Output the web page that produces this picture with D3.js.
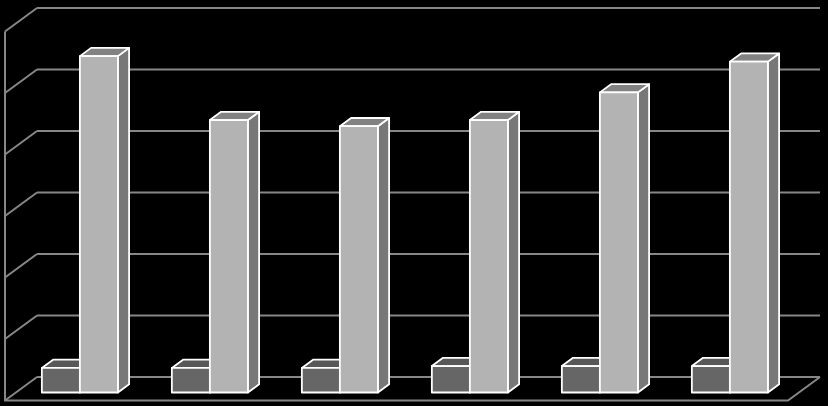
<!DOCTYPE html>
<html lang="en">
<head>
  <meta charset="UTF-8" />
  <title>3D column chart - D3.js</title>
  <style>
    html, body { margin: 0; padding: 0; background: #000; }
    svg { display: block; background: #000; }
    .grid { stroke: #878787; stroke-width: 2px; fill: none; }
    .face { stroke: #fff; stroke-width: 1.8px; stroke-linejoin: round; }
  </style>
</head>
<body>
  <svg width="828" height="406"></svg>
  <script src="https://d3js.org/d3.v7.min.js"></script>
  <script>
    // data (no labels shown in the original)
    const categories = ["1", "2", "3", "4", "5", "6"];
    const seriesNames = ["A", "B"];
    const seriesA = [4.0, 4.0, 4.0, 4.3, 4.3, 4.3];
    const seriesB = [54.7, 44.3, 43.3, 44.3, 48.8, 53.8];
    const yTicks = [0, 10, 20, 30, 40, 50, 60];

    const svg = d3.select("svg");

    // floor / walls geometry (front plane) and depth offset
    const left = 5, right = 788;
    const DX = 32, DY = 23.5;
    const barT0 = 0.34, barT1 = 0.69;

    const y = d3.scaleLinear().domain([0, 60]).range([400.5, 31.5]);
    const x0 = d3.scaleBand().domain(categories).range([4, 784])
      .paddingInner(0.415).paddingOuter(0.2075);
    const x1 = d3.scaleBand().domain(seriesNames).range([0, x0.bandwidth()]);

    // project a point at depth t (0 front, 1 back wall)
    const P = (px, py, t) => [px + t * DX, py - t * DY];

    const grid = svg.append("g");
    // back wall lines
    grid.selectAll("line.back").data(yTicks).enter().append("line")
      .attr("class", "grid")
      .attr("x1", left + DX).attr("x2", right + DX)
      .attr("y1", d => y(d) - DY).attr("y2", d => y(d) - DY);
    // left wall diagonals
    grid.selectAll("line.side").data(yTicks).enter().append("line")
      .attr("class", "grid")
      .attr("x1", left).attr("y1", d => y(d))
      .attr("x2", left + DX).attr("y2", d => y(d) - DY);
    // left vertical edge, floor front and right edge
    grid.append("path").attr("class", "grid")
      .attr("d", `M${left},${y(60)}L${left},${y(0)}L${right},${y(0)}L${right + DX},${y(0) - DY}`);

    const colors = {
      A: { front: "#666666", top: "#585858", side: "#4e4e4e" },
      B: { front: "#b3b3b3", top: "#828282", side: "#787878" }
    };

    const bars = [];
    categories.forEach((c, i) => {
      bars.push({ cat: c, s: "A", v: seriesA[i] });
      bars.push({ cat: c, s: "B", v: seriesB[i] });
    });

    const g = svg.append("g");
    bars.forEach(b => {
      const xa = x0(b.cat) + x1(b.s), xb = xa + x1.bandwidth();
      const yt = y(b.v), yb = y(0);
      const poly = pts => pts.map(p => p.join(",")).join(" ");
      const c = colors[b.s];
      // right side
      g.append("polygon").attr("class", "face").attr("fill", c.side)
        .attr("points", poly([P(xb, yt, barT0), P(xb, yt, barT1), P(xb, yb, barT1), P(xb, yb, barT0)]));
      // top
      g.append("polygon").attr("class", "face").attr("fill", c.top)
        .attr("points", poly([P(xa, yt, barT0), P(xa, yt, barT1), P(xb, yt, barT1), P(xb, yt, barT0)]));
      // front
      g.append("polygon").attr("class", "face").attr("fill", c.front)
        .attr("points", poly([P(xa, yt, barT0), P(xb, yt, barT0), P(xb, yb, barT0), P(xa, yb, barT0)]));
    });
  </script>
</body>
</html>
